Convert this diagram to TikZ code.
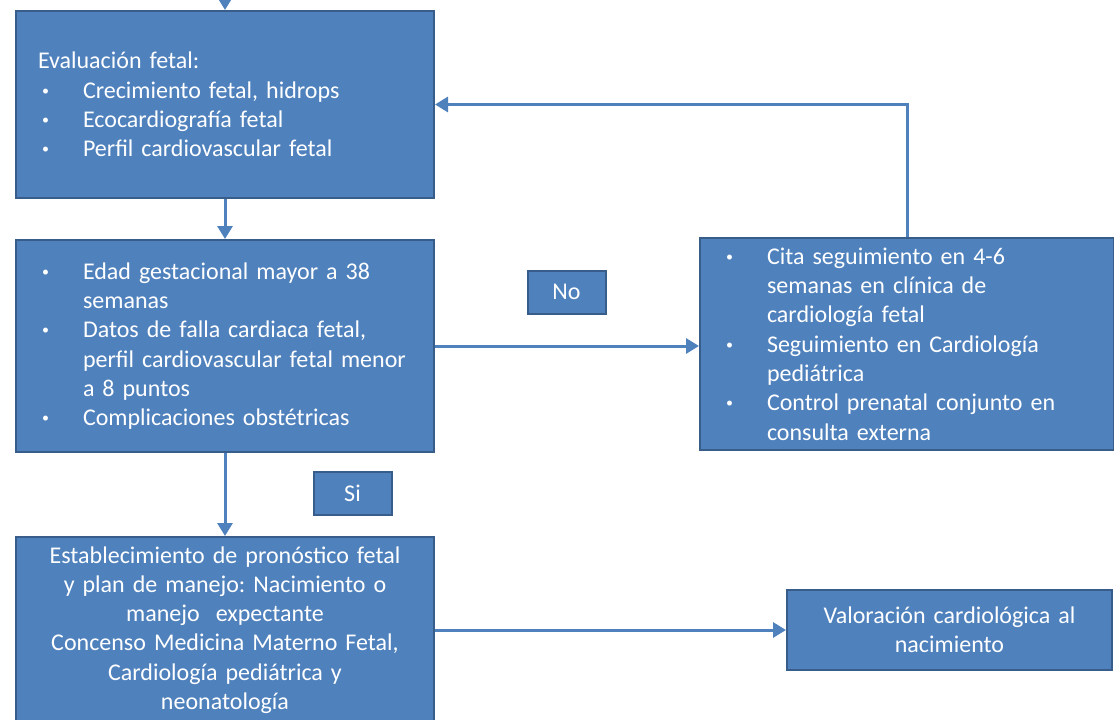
\documentclass[tikz,border=0pt]{standalone}
\usepackage{fontspec}
\setmainfont{Carlito}
\usetikzlibrary{arrows.meta, positioning}
\definecolor{boxblue}{HTML}{4F81BD}
\definecolor{edgeblue}{HTML}{385D8A}
\newcommand{\bul}{\makebox[45pt][l]{\hspace{4pt}\raisebox{3pt}{\fontsize{14}{14}\selectfont\textbullet}}}
\newcommand{\cont}{\hspace*{45pt}}
\frenchspacing

\begin{document}
\begin{tikzpicture}[x=1pt, y=1pt, font=\fontsize{24}{29.3}\selectfont,
    stepbox/.style={rectangle, draw=edgeblue, line width=2pt, fill=boxblue, text=white,
      inner xsep=22pt, inner ysep=0pt},
    listbox/.style={stepbox, align=left},
    tagbox/.style={stepbox, inner sep=0pt, minimum width=78pt, minimum height=43pt},
    flow/.style={-{Triangle[length=13pt,width=15pt]}, boxblue, line width=3pt}]

    \useasboundingbox (0,0) rectangle (1114,-720);

    \coordinate (top) at (225,10);
    \node (eval) [listbox, text width=374pt, minimum height=187pt] at (225,-104.5)
      {Evaluación fetal:\\
       \bul Crecimiento fetal, hidrops\\
       \bul Ecocardiografía fetal\\
       \bul Perfil cardiovascular fetal};
    \node (risk) [listbox, text width=374pt, minimum height=212pt] at (225,-346)
      {\bul Edad gestacional mayor a 38\\
       \cont semanas\\
       \bul Datos de falla cardiaca fetal,\\
       \cont perfil cardiovascular fetal menor\\
       \cont a 8 puntos\\
       \bul Complicaciones obstétricas};
    \node (follow) [listbox, text width=370pt, minimum height=212pt] at (907,-344)
      {\bul Cita seguimiento en 4-6\\
       \cont semanas en clínica de\\
       \cont cardiología fetal\\
       \bul Seguimiento en Cardiología\\
       \cont pediátrica\\
       \bul Control prenatal conjunto en\\
       \cont consulta externa};
    \node (plan) [stepbox, align=center, text width=374pt, minimum height=186pt] at (225,-630)
      {Establecimiento de pronóstico fetal\\
       y plan de manejo: Nacimiento o\\
       manejo\ \ expectante\\
       Concenso Medicina Materno Fetal,\\
       Cardiología pediátrica y\\
       neonatología};
    \node (birth) [stepbox, align=center, text width=281pt, minimum height=80pt] at (949.5,-630)
      {Valoración cardiológica al\\ nacimiento};

    % decision tags
    \node (no) [tagbox] at (566.5,-292) {No};
    \node (si) [tagbox] at (352.5,-493.5) {Si};

    \draw[flow] (top) -- (eval.north);
    \draw[flow] (eval) -- (risk);
    \draw[flow] (risk.east) -- (risk.east -| follow.west);
    \draw[flow] (follow.north) |- (eval.east);
    \draw[flow] (risk) -- (plan);
    \draw[flow] (plan) -- (birth);
\end{tikzpicture}
\end{document}
